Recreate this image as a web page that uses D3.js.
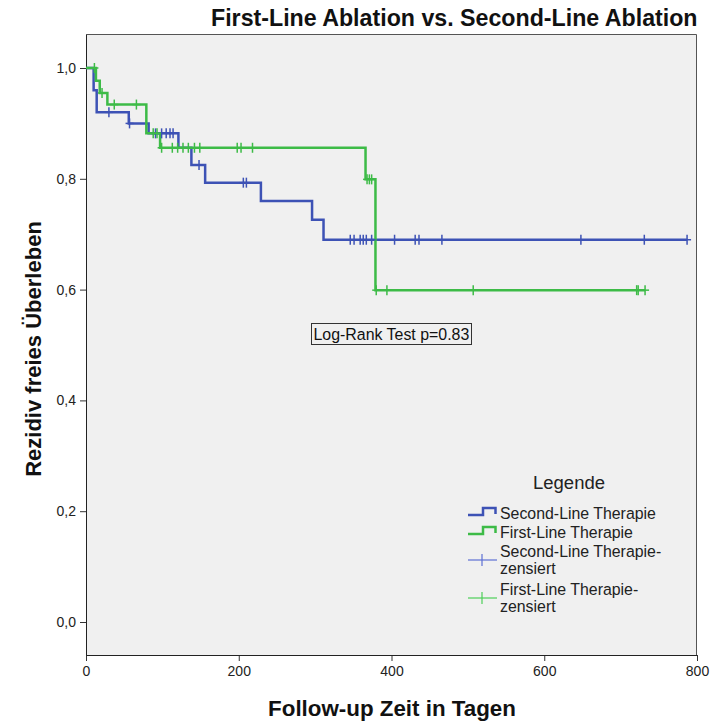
<!DOCTYPE html>
<html>
<head>
<meta charset="utf-8">
<script src="https://cdn.jsdelivr.net/npm/d3@7"></script>
<style>
  body { margin: 0; background: #fff; }
  text { font-family: Arial, "Liberation Sans", sans-serif; }
</style>
</head>
<body>
<svg id="chart" width="715" height="722"></svg>
<script>
// Kaplan-Meier steps (time in days, survival)
const secondTimes = [0, 10, 14, 56, 82, 121, 138, 156, 229, 296, 311];
const secondSurv  = [1.0, 0.96, 0.92, 0.90, 0.882, 0.856, 0.825, 0.793, 0.76, 0.726, 0.69];
const secondEnd = 787;
const secondCensored = [30, 57, 91, 99, 105, 110, 114, 148, 206, 210, 346, 351, 359, 363, 367, 374, 404, 431, 436, 466, 648, 731, 787];

const firstTimes = [0, 13, 18, 28, 79, 97, 366, 379];
const firstSurv  = [1.0, 0.977, 0.955, 0.934, 0.882, 0.856, 0.799, 0.599];
const firstEnd = 732;
const firstCensored = [11, 21, 37, 66, 88, 93, 99, 113, 120, 127, 134, 142, 149, 198, 203, 218, 368, 371, 374, 380, 394, 507, 721, 723, 732];

const xTicks = [0, 200, 400, 600, 800];
const yTicks = [0, 0.2, 0.4, 0.6, 0.8, 1.0];

const legendLabels = [
    ["Second-Line Therapie"],
    ["First-Line Therapie"],
    ["Second-Line Therapie-", "zensiert"],
    ["First-Line Therapie-", "zensiert"]
];

const blue = "#3d52b5", green = "#3dbb47";
const blueLight = "#5d70d4", greenLight = "#4ccf58";

var svg = d3.select("#chart");
var frame = {left: 86, right: 697, top: 34, bottom: 655};

var x = d3.scaleLinear().domain([0, 800]).range([frame.left, frame.right]);
var y = d3.scaleLinear().domain([0, 1]).range([622, 68]);

// squeeze/stretch text to the width it has in the picture
function fitWidth(sel, w) {
    var fs = parseFloat(sel.attr("font-size"));
    var len = sel.node().getComputedTextLength();
    sel.attr("font-size", fs * w / len);
}

svg.append("rect")
    .attr("x", frame.left).attr("y", frame.top)
    .attr("width", frame.right - frame.left).attr("height", frame.bottom - frame.top)
    .attr("fill", "#f0f0f0");

var comma = d3.formatLocale({decimal: ",", thousands: ".", grouping: [3], currency: ["", ""]}).format(".1f");

var yAxis = svg.append("g")
    .attr("transform", "translate(" + frame.left + ",0)")
    .call(d3.axisLeft(y).tickValues(yTicks).tickFormat(comma).tickSize(6).tickPadding(4));
var xAxis = svg.append("g")
    .attr("transform", "translate(0," + frame.bottom + ")")
    .call(d3.axisBottom(x).tickValues(xTicks).tickFormat(d3.format("d")).tickSize(6).tickPadding(5));

[yAxis, xAxis].forEach(function(a) {
    a.select(".domain").remove();
    a.selectAll("line").attr("stroke", "#333");
    a.selectAll("text").attr("font-size", 14).attr("fill", "#222")
        .style("font-family", "Arial, 'Liberation Sans', sans-serif");
});

// frame lines
svg.append("path")
    .attr("d", "M" + (frame.left + 0.5) + "," + frame.top + "V" + (frame.bottom + 0.5) + "H" + frame.right)
    .attr("fill", "none").attr("stroke", "#222");
svg.append("path")
    .attr("d", "M" + frame.left + "," + (frame.top + 0.5) + "H" + (frame.right - 0.5) + "V" + frame.bottom)
    .attr("fill", "none").attr("stroke", "#555");

var line = d3.line().x(d => x(d[0])).y(d => y(d[1])).curve(d3.curveStepAfter);

function curve(times, surv, end, color) {
    var pts = times.map((t, i) => [t, surv[i]]);
    pts.push([end, surv[surv.length - 1]]);
    svg.append("path").datum(pts)
        .attr("d", line)
        .attr("fill", "none").attr("stroke", color).attr("stroke-width", 2.5);
}

function censors(times, surv, cens, color) {
    var g = svg.append("g").attr("stroke", color).attr("stroke-width", 1.5);
    cens.forEach(function(t) {
        var s = surv[d3.bisectRight(times, t) - 1];
        var cx = x(t), cy = y(s);
        g.append("line").attr("x1", cx).attr("x2", cx).attr("y1", cy - 5).attr("y2", cy + 5);
        g.append("line").attr("x1", cx - 4).attr("x2", cx + 4).attr("y1", cy).attr("y2", cy);
    });
}

curve(secondTimes, secondSurv, secondEnd, blue);
curve(firstTimes, firstSurv, firstEnd, green);
censors(secondTimes, secondSurv, secondCensored, blue);
censors(firstTimes, firstSurv, firstCensored, green);

// log-rank box
svg.append("rect")
    .attr("x", 311.5).attr("y", 323.5).attr("width", 160).attr("height", 21)
    .attr("fill", "#f0f0f0").attr("stroke", "#333");
svg.append("text")
    .attr("x", 313.5).attr("y", 340).attr("font-size", 16).attr("fill", "#111")
    .text("Log-Rank Test p=0.83")
    .call(fitWidth, 156);

// legend
svg.append("text")
    .attr("x", 569).attr("y", 489).attr("text-anchor", "middle")
    .attr("font-size", 18).attr("fill", "#222")
    .text("Legende")
    .call(fitWidth, 72);

var probe = svg.append("text").attr("font-size", 16).text(legendLabels[0][0]).call(fitWidth, 156);
var legendSize = probe.attr("font-size");
probe.remove();

var rows = [
    {base: 519, kind: "step", color: blue},
    {base: 538, kind: "step", color: green},
    {base: 557, kind: "cross", color: blueLight},
    {base: 595, kind: "cross", color: greenLight}
];
rows.forEach(function(r, i) {
    if (r.kind == "step") {
        svg.append("path")
            .attr("d", "M468," + (r.base - 4) + "H483V" + (r.base - 11) + "H495.5V" + (r.base - 5))
            .attr("fill", "none").attr("stroke", r.color).attr("stroke-width", 2.5);
    } else {
        var cy = r.base + 3;
        svg.append("line").attr("x1", 468).attr("x2", 497).attr("y1", cy).attr("y2", cy)
            .attr("stroke", r.color).attr("stroke-width", 1.2);
        svg.append("line").attr("x1", 482).attr("x2", 482).attr("y1", cy - 6).attr("y2", cy + 6)
            .attr("stroke", r.color).attr("stroke-width", 1.2);
    }
    legendLabels[i].forEach(function(lbl, j) {
        svg.append("text")
            .attr("x", 500).attr("y", r.base + j * 17)
            .attr("font-size", legendSize).attr("fill", "#222")
            .text(lbl);
    });
});

// titles
svg.append("text")
    .attr("x", 211).attr("y", 26).attr("font-size", 22).attr("font-weight", "bold").attr("fill", "#111")
    .text("First-Line Ablation vs. Second-Line Ablation")
    .call(fitWidth, 487);

svg.append("text")
    .attr("x", 392).attr("y", 716).attr("text-anchor", "middle")
    .attr("font-size", 21).attr("font-weight", "bold").attr("fill", "#111")
    .text("Follow-up Zeit in Tagen")
    .call(fitWidth, 248);

svg.append("text")
    .attr("transform", "translate(41,349) rotate(-90)").attr("text-anchor", "middle")
    .attr("font-size", 21).attr("font-weight", "bold").attr("fill", "#111")
    .text("Rezidiv freies Überleben")
    .call(fitWidth, 256);
</script>
</body>
</html>
